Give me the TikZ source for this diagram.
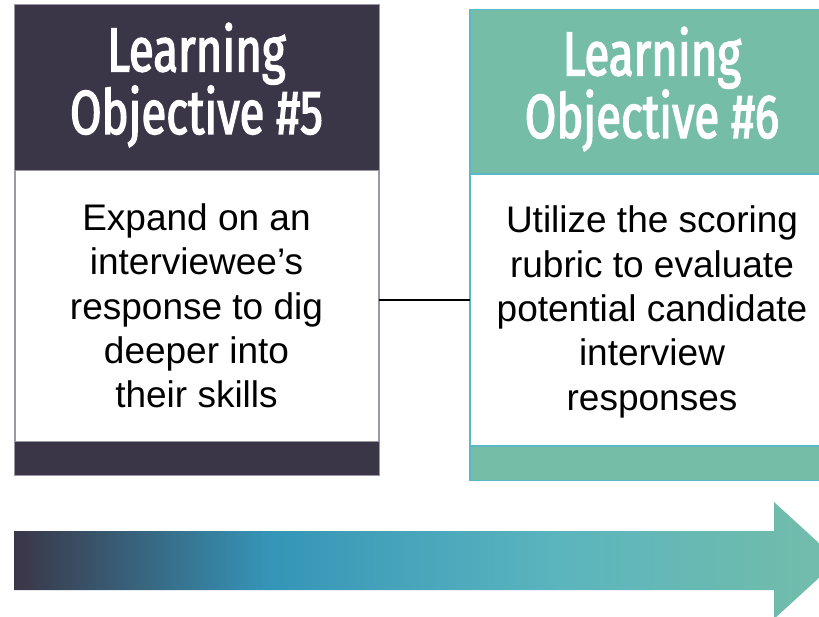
\documentclass[tikz,border=0pt]{standalone}
\usepackage{fontspec}
\setmainfont{Liberation Sans}
\newfontfamily\headfont[FakeStretch=0.735, FakeBold=2.2]{Fira Sans}
\definecolor{navyink}{HTML}{3A3647}
\definecolor{seagreen}{HTML}{76BDA8}
\definecolor{tealrule}{HTML}{5BB8C6}
\definecolor{edgegray}{HTML}{9A98A4}
\definecolor{flowblue}{HTML}{3595B8}
\definecolor{flowteal}{HTML}{5BB5BE}
\definecolor{flowgreen}{HTML}{74BDA9}
% left-to-right progress colours (25bp..75bp spans the filled path)
\pgfdeclarehorizontalshading{progress}{100bp}{color(0bp)=(navyink); color(25bp)=(navyink); color(40.5bp)=(flowblue); color(58bp)=(flowteal); color(75bp)=(flowgreen); color(100bp)=(flowgreen)}
\tikzset{
  card/.style={rectangle, anchor=north west, inner sep=0pt, minimum width=365pt, minimum height=471pt},
  darkcard/.style={card, fill=navyink, draw=edgegray, line width=0.8pt},
  greencard/.style={card, fill=seagreen, draw=tealrule, line width=1.5pt},
  bodybox/.style={rectangle, anchor=north west, inner sep=0pt, fill=white, minimum width=364pt, minimum height=272pt},
  headtext/.style={text=white, align=center, font=\headfont\fontsize{62}{58}\selectfont},
  bodytext/.style={text=black, align=center, font=\fontsize{37}{44.3}\selectfont},
  link/.style={draw=black, line width=1.5pt}
}
\begin{document}
\begin{tikzpicture}[x=1pt, y=-1pt]
  \useasboundingbox (0,0) rectangle (819,616);
  \clip (0,0) rectangle (819,616);
  \fill[white] (0,0) rectangle (819,616);

  % objective 5 card
  \node[darkcard] (c5) at (14,4) {};
  \node[bodybox, draw=edgegray, line width=0.8pt, minimum width=363pt, minimum height=271pt] (b5) at (15,170) {};
  \node[headtext] (h5) at (196.5,85) {Learning\\Objective \#5};
  \node[bodytext] (t5) at (196.5,306) {Expand on an\\interviewee’s\\response to dig\\deeper into\\their skills};

  % objective 6 card
  \node[greencard] (c6) at (469,8.5) {};
  \node[bodybox, draw=tealrule, line width=1.5pt] (b6) at (469.5,173) {};
  \node[headtext] (h6) at (652,89) {Learning\\Objective \#6};
  \node[bodytext] (t6) at (652,312) {Utilize the scoring\\rubric to evaluate\\potential candidate\\interview\\responses};

  % connector between the two cards
  \coordinate (linky) at (0,300);
  \draw[link] (b5.east |- linky) -- (b6.west |- linky);

  % progress arrow
  \shade[shading=progress]
    (14,531) -- (774,531) -- (774,502) -- (838,560.5) -- (774,619) -- (774,590) -- (14,590) -- cycle;
\end{tikzpicture}
\end{document}
